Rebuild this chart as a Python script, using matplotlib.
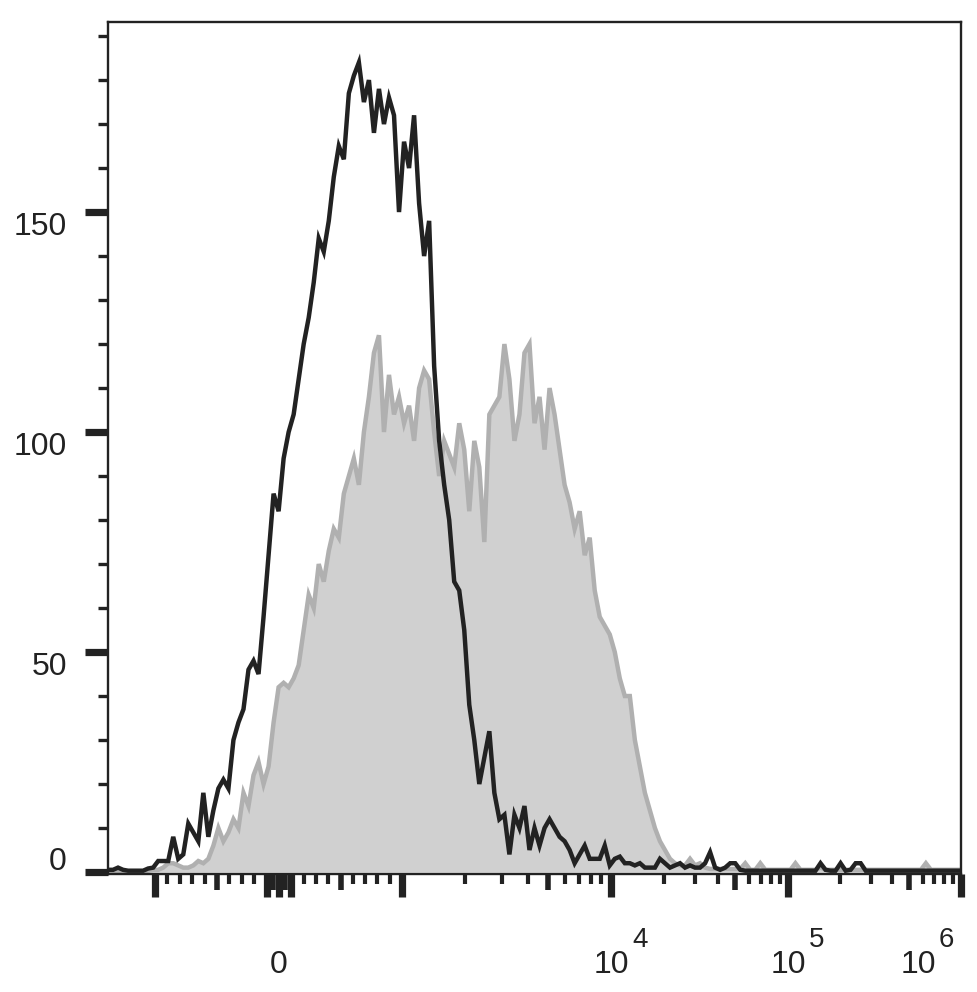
import matplotlib
matplotlib.use('Agg')
import matplotlib.pyplot as plt
import numpy as np
from matplotlib.ticker import FixedLocator

# histogram counts, one value per display channel (left -> right)
black_counts = [
    0.5, 0.5, 1, 0.5, 0.3, 0.3, 0.3, 0.3, 0.8, 1,
    2.5, 2.5, 2.5, 8, 3, 4, 11, 9, 7, 18,
    8, 14, 19, 21, 19, 30, 34, 37, 46, 48,
    45, 58, 72, 86, 82, 94, 100, 104, 112, 120,
    126, 134, 144, 141, 148, 158, 165, 162, 177, 181,
    184, 175, 180, 168, 178, 170, 176, 172, 150, 166,
    160, 172, 152, 140, 148, 115, 98, 88, 80, 66,
    64, 55, 38, 30, 20, 26, 32, 18, 12, 13,
    4, 13, 10, 15, 5, 10, 6, 10, 12, 10,
    8, 7, 5, 2, 4, 6, 3, 3, 3, 6,
    1.5, 3, 3.5, 2, 2, 1.5, 2, 1, 1, 1,
    3, 2, 1, 1.5, 2, 1, 1.5, 1, 1, 2,
    4.5, 1, 0.5, 1, 2, 2, 0.5, 0.3, 0.3, 0.3,
    0.3, 0.3, 0.3, 0.3, 0.3, 0.3, 0.3, 0.3, 0.3, 0.3,
    0.3, 0.3, 2, 0.5, 0.3, 0.3, 2, 0.3, 0.5, 2,
    2, 0.3, 0.3, 0.3, 0.3, 0.3, 0.3, 0.3, 0.3, 0.3,
    0.3, 0.3, 0.3, 0.3, 0.3, 0.3, 0.3, 0.3, 0.3, 0.3,
    0.3,
]
gray_counts = [
    0, 0, 0, 0, 0, 0, 0, 0, 0.3, 0.5,
    0.5, 1, 2, 2, 1.5, 1, 1, 1.5, 2.5, 2,
    3, 6, 10, 7, 9, 12, 10, 18, 15, 22,
    25, 20, 24, 34, 42, 43, 42, 44, 47, 55,
    63, 60, 70, 66, 73, 78, 76, 86, 90, 94,
    88, 100, 108, 118, 122, 100, 113, 104, 108, 102,
    106, 98, 110, 114, 112, 100, 90, 98, 95, 92,
    102, 96, 82, 98, 92, 75, 104, 106, 108, 120,
    112, 98, 104, 118, 120, 102, 108, 96, 110, 104,
    96, 88, 84, 78, 82, 72, 76, 64, 58, 56,
    54, 50, 44, 40, 40, 30, 24, 18, 14, 10,
    7, 5, 3, 2, 1.5, 1.5, 3, 1.5, 2, 1,
    0.7, 0.7, 0.7, 0.7, 0.7, 0.7, 0.7, 2, 0.5, 0.5,
    2, 0.5, 0.5, 0.5, 0.5, 0.5, 0.5, 2, 0.5, 0.5,
    0.5, 0.5, 1, 0.5, 0.5, 0.5, 0.5, 0.5, 0.5, 0.5,
    0.5, 0.5, 0.5, 0.5, 0.5, 0.5, 0.5, 0.5, 0.5, 0.5,
    0.5, 0.5, 0.5, 2, 0.5, 0.5, 0.5, 0.5, 0.5, 0.5,
    0.5,
]

y_major = [0, 50, 100, 150]
y_minor = [10, 20, 30, 40, 60, 70, 80, 90, 110, 120, 130, 140, 160, 170, 180, 190]
x_long = [-1000, -100, 0, 100, 1000, 1e4, 1e5, 1e6]
x_medium = [-500, -50, 50, 500, 5e3, 5e4, 5e5]
x_minor = [-900, -800, -700, -600, -400, -300, -200,
           200, 300, 400, 600, 700, 800, 900,
           2e3, 3e3, 4e3, 6e3, 7e3, 8e3, 9e3,
           2e4, 3e4, 4e4, 6e4, 7e4, 8e4, 9e4,
           2e5, 3e5, 4e5, 6e5, 7e5, 8e5, 9e5]

INK = '#222222'

# biex-like axis: linear inside +-1000, log decades outside
U_KNOTS = [-12, -1, 0, 1, 2, 3, 4, 12]
T_KNOTS = [-1.544, 0.0551, 0.2005, 0.3447, 0.5897, 0.7972, 1.0, 2.622]


def to_u(v):
    v = np.asarray(v, dtype=float)
    a = np.abs(v) / 1000.0
    return np.sign(v) * np.where(a <= 1, a, 1 + np.log10(np.maximum(a, 1)))


def forward(v):
    return np.interp(to_u(v), U_KNOTS, T_KNOTS)


def inverse(t):
    u = np.interp(np.asarray(t, dtype=float), T_KNOTS, U_KNOTS)
    a = np.abs(u)
    return np.sign(u) * 1000.0 * np.where(a <= 1, a, 10 ** (np.minimum(a, 12) - 1))


plt.rcParams['font.family'] = ['Liberation Sans', 'DejaVu Sans']

fig = plt.figure(figsize=(9.77, 9.92), dpi=100)
ax = fig.add_axes([108 / 977, 1 - 874 / 992, 853 / 977, 852 / 992])
ax.set_xscale('function', functions=(forward, inverse))

x = inverse(np.linspace(0, 1, len(black_counts)))

ax.fill_between(x, 0, gray_counts, color='#d0d0d0', lw=0, zorder=1)
ax.plot(x, gray_counts, color='#b0b0b0', lw=3.2, solid_joinstyle='miter', zorder=2)
ax.plot(x, black_counts, color=INK, lw=3.2, solid_joinstyle='miter', zorder=3)

ax.set_xlim(inverse(0), inverse(1))
ax.set_ylim(-0.45, 193.2)

for s in ax.spines.values():
    s.set_linewidth(1.7)
    s.set_color(INK)

ax.yaxis.set_major_locator(FixedLocator(y_major))
ax.yaxis.set_minor_locator(FixedLocator(y_minor))
x_major = sorted(x_long + x_medium)
ax.xaxis.set_major_locator(FixedLocator(x_major))
ax.xaxis.set_minor_locator(FixedLocator(x_minor))

ax.tick_params(which='both', direction='out', color=INK, labelleft=False, labelbottom=False)
ax.tick_params(which='major', length=16.5, width=5.2)
ax.tick_params(axis='y', which='minor', length=7.2, width=2.4)
ax.tick_params(axis='x', which='minor', length=7.2, width=3.0)

for tick, loc in zip(ax.xaxis.get_major_ticks(), x_major):
    if loc in x_medium:
        tick.tick1line.set_markersize(11.5)
        tick.tick1line.set_markeredgewidth(4.0)

# y labels
for v in y_major:
    dy = 2 if v == 0 else -23
    ax.annotate(str(v), xy=(0, v), xycoords=('axes fraction', 'data'),
                xytext=(-41, dy), textcoords='offset pixels',
                ha='right', va='baseline', fontsize=23, color=INK)

# x labels
ax.annotate('0', xy=(0, 0), xycoords=('data', 'axes fraction'),
            xytext=(0, -99), textcoords='offset pixels',
            ha='center', va='baseline', fontsize=23, color=INK)
for v, exp, shift in [(1e4, '4', 0), (1e5, '5', 0), (1e6, '6', -43)]:
    ax.annotate('10', xy=(v, 0), xycoords=('data', 'axes fraction'),
                xytext=(shift, -99), textcoords='offset pixels',
                ha='center', va='baseline', fontsize=23, color=INK)
    ax.annotate(exp, xy=(v, 0), xycoords=('data', 'axes fraction'),
                xytext=(shift + 21, -73), textcoords='offset pixels',
                ha='left', va='baseline', fontsize=20, color=INK)

fig.savefig('out.png', dpi=100)
